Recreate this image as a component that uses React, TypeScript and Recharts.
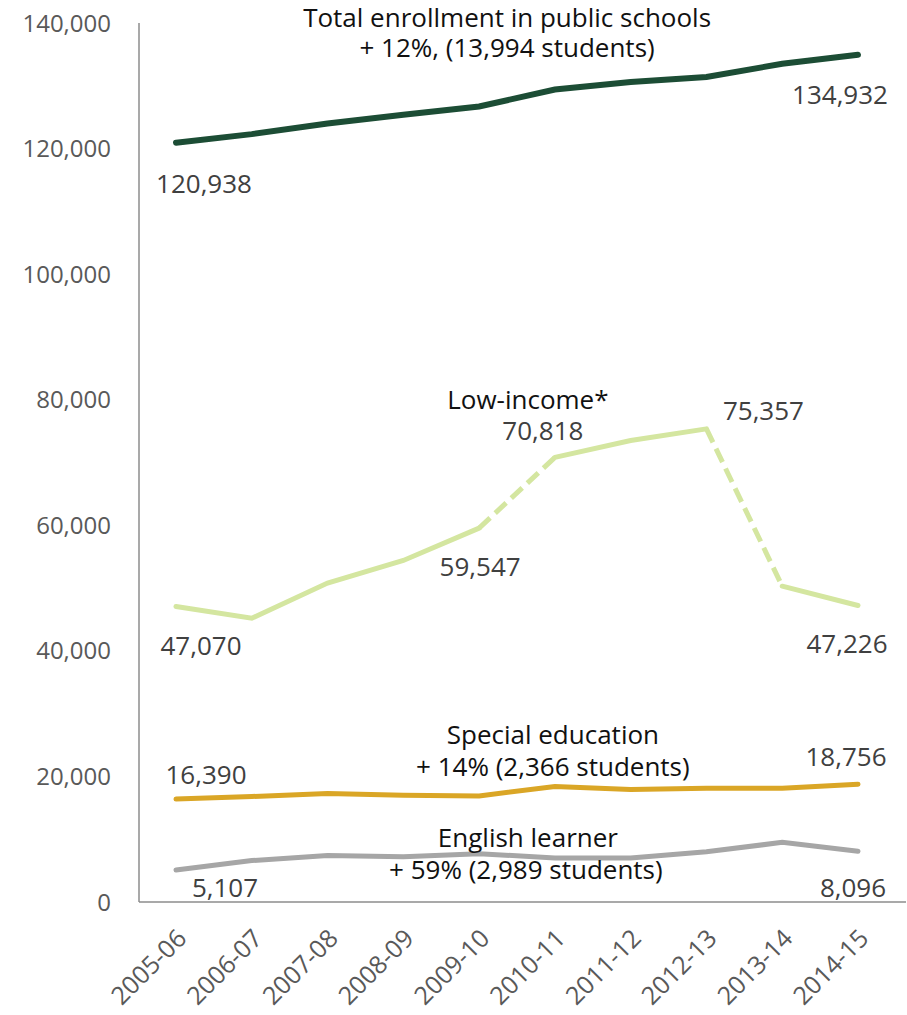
import React from "react";
import { LineChart, Line, XAxis, YAxis, LabelList } from "recharts";

const years = [
  "2005-06",
  "2006-07",
  "2007-08",
  "2008-09",
  "2009-10",
  "2010-11",
  "2011-12",
  "2012-13",
  "2013-14",
  "2014-15",
];
const totalEnrollment = [
  120938, 122300, 124000, 125400, 126700, 129400, 130600, 131400, 133500, 134932,
];
const lowIncome = [
  47070, 45200, 50800, 54400, 59547, 70818, 73500, 75357, 50300, 47226,
];
const specialEd = [
  16390, 16800, 17300, 17000, 16900, 18400, 17900, 18100, 18100, 18756,
];
const englishLearner = [
  5107, 6600, 7400, 7200, 7700, 7000, 7000, 8000, 9500, 8096,
];
const yTicks = [0, 20000, 40000, 60000, 80000, 100000, 120000, 140000];

// low-income segments that are drawn dashed (count method changed)
const lowDashedIdx = [4, 5, 7, 8];
const lowSolidA = [0, 1, 2, 3, 4, 8, 9];
const lowSolidB = [5, 6, 7];

const pick = (arr: number[], idx: number[], i: number) =>
  idx.includes(i) ? arr[i] : null;

const data = years.map((year, i) => ({
  year,
  total: totalEnrollment[i],
  lowA: pick(lowIncome, lowSolidA, i),
  lowB: pick(lowIncome, lowSolidB, i),
  lowDash: pick(lowIncome, lowDashedIdx, i),
  sped: specialEd[i],
  ell: englishLearner[i],
}));

const FONT = "'Open Sans', 'Noto Sans', sans-serif";
const NUM = "#404040";
const DARK = "#111111";

type Note = { text?: string; dx: number; dy: number; fill?: string };

const fmt = (v: number) => v.toLocaleString("en-US");

// notes keyed by point index; text omitted means "print the value"
const totalNotes: Record<number, Note[]> = {
  0: [{ dx: 28, dy: 40 }],
  4: [
    { text: "Total enrollment in public schools", dx: 28, dy: -90, fill: DARK },
    { text: "+ 12%, (13,994 students)", dx: 28, dy: -60, fill: DARK },
  ],
  9: [{ dx: -18, dy: 39 }],
};
const lowNotesA: Record<number, Note[]> = {
  0: [{ dx: 25, dy: 39 }],
  4: [{ dx: 1, dy: 38 }],
  9: [{ dx: -11, dy: 38 }],
};
const lowNotesB: Record<number, Note[]> = {
  5: [
    { dx: -12, dy: -27 },
    { text: "Low-income*", dx: -27, dy: -58, fill: DARK },
  ],
  7: [{ dx: 57, dy: -19 }],
};
const spedNotes: Record<number, Note[]> = {
  0: [{ dx: 30, dy: -25 }],
  5: [
    { text: "Special education", dx: -2, dy: -52, fill: DARK },
    { text: "+ 14% (2,366 students)", dx: -2, dy: -20, fill: DARK },
  ],
  9: [{ dx: -12, dy: -28 }],
};
const ellNotes: Record<number, Note[]> = {
  0: [{ dx: 49, dy: 17 }],
  5: [
    { text: "English learner", dx: -27, dy: -21, fill: DARK },
    { text: "+ 59% (2,989 students)", dx: -29, dy: 11, fill: DARK },
  ],
  9: [{ dx: -5, dy: 36 }],
};

const notes = (map: Record<number, Note[]>) => (props: any) => {
  const { x, y, index, value } = props;
  const list = map[index];
  if (!list || value == null) return null;
  return (
    <g>
      {list.map((n, k) => (
        <text
          key={k}
          x={x + n.dx}
          y={y + n.dy}
          textAnchor="middle"
          dominantBaseline="central"
          fontFamily={FONT}
          fontSize={26}
          fill={n.fill || NUM}
        >
          {n.text ?? fmt(value)}
        </text>
      ))}
    </g>
  );
};

const YearTick = (props: any) => {
  const { x, y, payload } = props;
  const tx = x + 12;
  const ty = y + 38;
  return (
    <text
      x={tx}
      y={ty}
      textAnchor="end"
      transform={`rotate(-45, ${tx}, ${ty})`}
      fontFamily={FONT}
      fontSize={25}
      fill="#595959"
    >
      {payload.value}
    </text>
  );
};

export default function App() {
  return (
    <div style={{ position: "absolute", left: 0, top: 0, background: "#fff" }}>
      <LineChart
        width={907}
        height={1015}
        data={data}
        margin={{ top: 23, right: 1, left: 0, bottom: 0 }}
      >
        <XAxis
          dataKey="year"
          height={113}
          tickLine={false}
          tickSize={0}
          tickMargin={0}
          axisLine={{ stroke: "#8c8c8c", strokeWidth: 1.5 }}
          tick={<YearTick />}
          interval={0}
          padding={{ left: 37, right: 48 }}
        />
        <YAxis
          domain={[0, 140000]}
          ticks={yTicks}
          width={139}
          tickLine={false}
          tickSize={0}
          tickMargin={28}
          axisLine={{ stroke: "#8c8c8c", strokeWidth: 1.5 }}
          tickFormatter={fmt}
          tick={{ fill: "#595959", fontSize: 24, fontFamily: FONT }}
        />
        <Line
          dataKey="lowDash"
          stroke="#d4e6a0"
          strokeWidth={5}
          strokeDasharray="15 7"
          dot={false}
          isAnimationActive={false}
        />
        <Line
          dataKey="lowA"
          stroke="#d4e6a0"
          strokeWidth={5}
          strokeLinecap="round"
          dot={false}
          isAnimationActive={false}
        >
          <LabelList dataKey="lowA" content={notes(lowNotesA)} />
        </Line>
        <Line
          dataKey="lowB"
          stroke="#d4e6a0"
          strokeWidth={5}
          strokeLinecap="round"
          dot={false}
          isAnimationActive={false}
        >
          <LabelList dataKey="lowB" content={notes(lowNotesB)} />
        </Line>
        <Line
          dataKey="ell"
          stroke="#a6a6a6"
          strokeWidth={5}
          strokeLinecap="round"
          dot={false}
          isAnimationActive={false}
        >
          <LabelList dataKey="ell" content={notes(ellNotes)} />
        </Line>
        <Line
          dataKey="sped"
          stroke="#daa626"
          strokeWidth={5}
          strokeLinecap="round"
          dot={false}
          isAnimationActive={false}
        >
          <LabelList dataKey="sped" content={notes(spedNotes)} />
        </Line>
        <Line
          dataKey="total"
          stroke="#1c4d35"
          strokeWidth={6}
          strokeLinecap="round"
          dot={false}
          isAnimationActive={false}
        >
          <LabelList dataKey="total" content={notes(totalNotes)} />
        </Line>
      </LineChart>
    </div>
  );
}
